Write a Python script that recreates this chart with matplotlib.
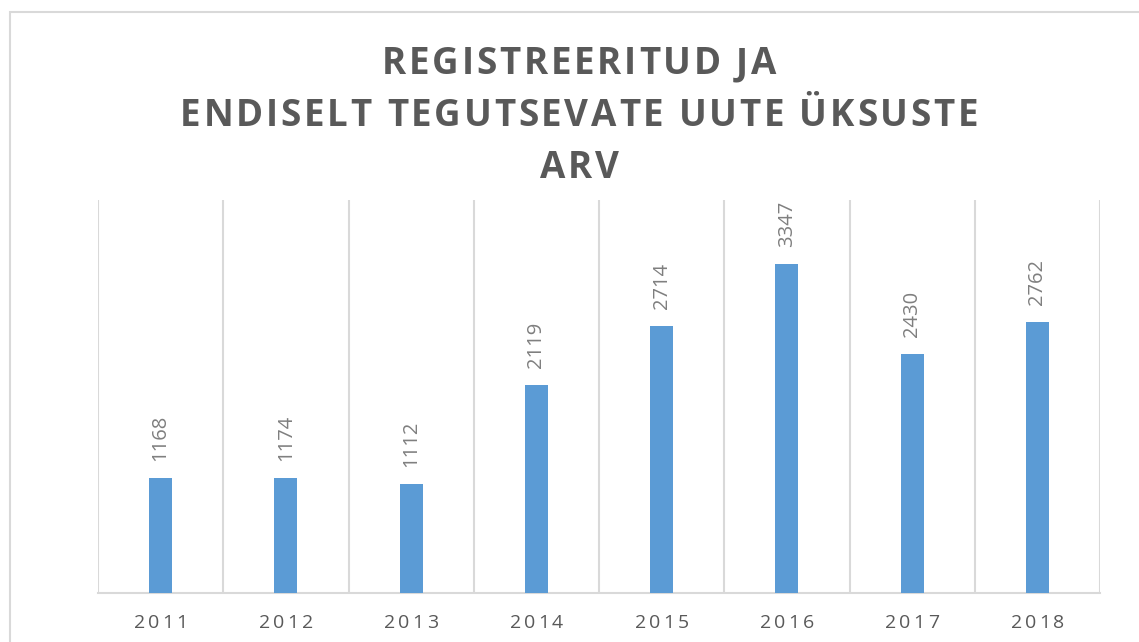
import matplotlib
matplotlib.use('Agg')
import matplotlib.pyplot as plt
from matplotlib.font_manager import FontProperties, findfont, get_font
from matplotlib.patches import Rectangle

years = ['2011', '2012', '2013', '2014', '2015', '2016', '2017', '2018']
counts = [1168, 1174, 1112, 2119, 2714, 3347, 2430, 2762]
title_lines = ['REGISTREERITUD JA', 'ENDISELT TEGUTSEVATE UUTE ÜKSUSTE', 'ARV']

W, H = 1139, 642
DPI = 100
bar_color = '#5B9BD5'
grid_color = '#d9d9d9'
text_color = '#595959'
label_color = '#7f7f7f'


def advances(s, prop):
    font = get_font(findfont(prop))
    font.set_size(prop.get_size_in_points(), DPI)
    return [font.load_char(ord(c)).linearHoriAdvance / 65536 for c in s]


def spaced_text(fig, s, cx, base_y, prop, spacing, color):
    """draw text with letter spacing, centred on cx (pixels), baseline at base_y (pixels from top)"""
    widths = advances(s, prop)
    total = sum(widths) + spacing * (len(s) - 1)
    x = cx - total / 2
    for c, w in zip(s, widths):
        fig.text(x / W, 1 - base_y / H, c, fontproperties=prop, color=color,
                 ha='left', va='baseline')
        x += w + spacing


fig = plt.figure(figsize=(W / DPI, H / DPI), dpi=DPI)
ax = fig.add_axes([98 / W, 1 - 593 / H, (1100 - 98) / W, (593 - 200) / H])

x = list(range(len(years)))
bars = ax.bar(x, counts, width=0.185, color=bar_color, zorder=3)
ax.set_xlim(-0.5, len(years) - 0.5)
ax.set_ylim(0, 4000)

# category separators
for i in range(len(years) + 1):
    ax.axvline(i - 0.5, color=grid_color, lw=1.5, zorder=1)

for s in ['top', 'left', 'right']:
    ax.spines[s].set_visible(False)
ax.spines['bottom'].set_color(grid_color)
ax.spines['bottom'].set_linewidth(1.5)
ax.set_xticks([])
ax.set_yticks([])

for rect, v in zip(bars, counts):
    ax.annotate(str(v), (rect.get_x() + rect.get_width() / 2, v),
                xytext=(0, 17), textcoords='offset pixels',
                rotation=90, ha='center', va='bottom',
                fontsize=14.5, family='Open Sans', color=label_color)

# letter-spaced tick labels
tick_prop = FontProperties(family='Open Sans', size=14)
for i, yr in enumerate(years):
    px = ax.transData.transform((i, 0))[0]
    spaced_text(fig, yr, px, 628, tick_prop, 3.0, text_color)

# letter-spaced title
title_prop = FontProperties(family='Open Sans', weight='bold', size=26.5)
natural = sum(advances(title_lines[1], title_prop))
spacing = max(0.0, (798 - natural) / (len(title_lines[1]) - 1))
for line, base in zip(title_lines, [74, 126, 178]):
    spaced_text(fig, line, 579, base, title_prop, spacing, text_color)

# outer chart frame
fig.patches.append(Rectangle((10 / W, -0.5), 2, 1 - 12 / H + 0.5,
                             transform=fig.transFigure, fill=False,
                             edgecolor=grid_color, lw=1.5))

fig.savefig('out.png', dpi=DPI)
